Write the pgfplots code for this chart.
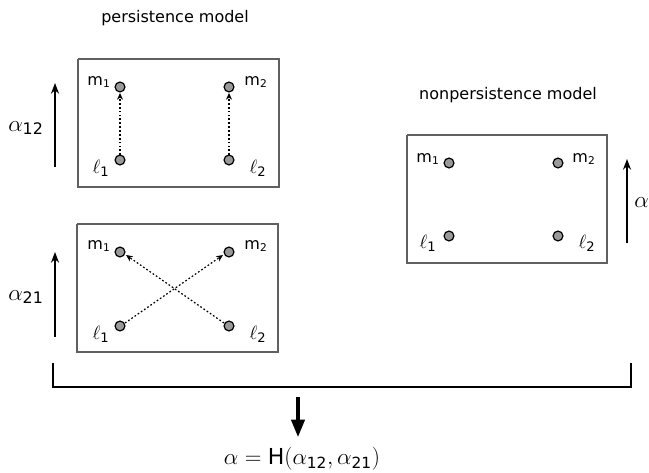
\documentclass[border=0pt]{standalone}
\usepackage{pgfplots}
\pgfplotsset{compat=1.18}
\usepackage{fontspec}
\setmainfont{DejaVu Sans}
\setsansfont{DejaVu Sans}
\usetikzlibrary{arrows.meta}
\definecolor{boxgray}{HTML}{606060}
\definecolor{dotgray}{HTML}{999999}
\newcommand{\lab}[2]{{\fontsize{12}{14}\selectfont #1$_{\mathsf{#2}}$}}
\newcommand{\elllab}[1]{{\fontsize{14}{16}\selectfont$\ell_{\mathsf{#1}}$}}
\tikzset{dotarrow/.style={black, line width=0.9pt, dash pattern=on 1.3pt off 1.6pt, -{Stealth[length=5pt,width=4.5pt,inset=1.5pt]}}}
\begin{document}
\begin{tikzpicture}
\begin{axis}[
  scale only axis, width=486.75pt, height=354.75pt,
  xmin=0, xmax=649, ymin=0, ymax=473, y dir=reverse,
  hide axis, clip=false,
]
% boxes
\addplot[boxgray, line width=1pt] coordinates {(78,59) (279,59) (279,187) (78,187) (78,59)};
\addplot[boxgray, line width=1pt] coordinates {(77,224) (278,224) (278,352) (77,352) (77,224)};
\addplot[boxgray, line width=1pt] coordinates {(407,135) (607,135) (607,263) (407,263) (407,135)};
% dotted arrows, persistence
\addplot[dotarrow] coordinates {(120,155) (120,93)};
\addplot[dotarrow] coordinates {(229,155) (229,93)};
% crossing arrows
\addplot[dotarrow] coordinates {(125,323) (223,255)};
\addplot[dotarrow] coordinates {(224,323) (126,255)};
% nodes
\addplot[only marks, mark=*, mark size=3.7pt, mark options={fill=dotgray, draw=black, line width=0.9pt}] coordinates {
(120,87) (229,87) (120,160) (229,160)
(120,252) (229,252) (120,326) (229,326)
(449,163) (558,163) (449,236) (558,236)};
% alpha arrows
\addplot[black, line width=1.4pt, -{Stealth[length=8pt,width=6pt]}] coordinates {(55,167) (55,83)};
\addplot[black, line width=1.4pt, -{Stealth[length=8pt,width=6pt]}] coordinates {(55,337) (55,252)};
\addplot[black, line width=1.1pt, -{Stealth[length=8pt,width=6pt]}] coordinates {(627,243) (627,159)};
% bracket
\addplot[black, line width=1.1pt] coordinates {(53,363) (53,387) (631,387) (631,363)};
\addplot[black, line width=2.3pt, -{Triangle[length=13pt,width=10pt]}] coordinates {(298,397) (298,437)};
% texts
\node[font=\fontsize{12}{14}\selectfont] at (axis cs:175,18) {persistence model};
\node[font=\fontsize{12}{14}\selectfont] at (axis cs:508,95) {nonpersistence model};
\node at (axis cs:26,128) {\fontsize{17}{20}\selectfont$\alpha_{\mathsf{12}}$};
\node at (axis cs:26,297) {\fontsize{17}{20}\selectfont$\alpha_{\mathsf{21}}$};
\node[anchor=west, inner sep=0pt] at (axis cs:634,203) {\fontsize{17}{20}\selectfont$\alpha$};
\node at (axis cs:302,459) {\fontsize{16.5}{20}\selectfont$\alpha=\mathsf{H}(\alpha_{\mathsf{12}},\alpha_{\mathsf{21}})$};
% labels box 1
\node at (axis cs:99,82) {\lab{m}{1}};
\node at (axis cs:256,82) {\lab{m}{2}};
\node at (axis cs:101,168) {\elllab{1}};
\node at (axis cs:258,168) {\elllab{2}};
% labels box 2
\node at (axis cs:99,246) {\lab{m}{1}};
\node at (axis cs:256,246) {\lab{m}{2}};
\node at (axis cs:101,334) {\elllab{1}};
\node at (axis cs:258,334) {\elllab{2}};
% labels box 3
\node at (axis cs:428,159) {\lab{m}{1}};
\node at (axis cs:584,159) {\lab{m}{2}};
\node at (axis cs:428,243) {\elllab{1}};
\node at (axis cs:587,243) {\elllab{2}};
\end{axis}
\pgfresetboundingbox
\path[use as bounding box] (current axis.south west) rectangle (current axis.north east);
\end{tikzpicture}
\end{document}
